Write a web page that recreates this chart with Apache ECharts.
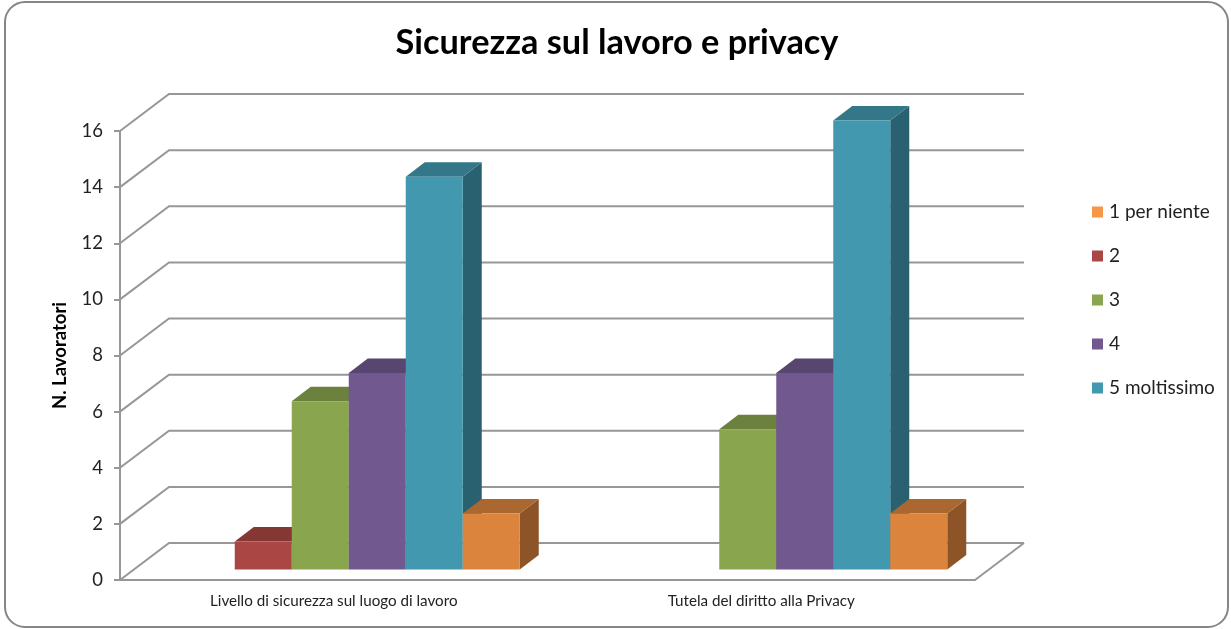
<!DOCTYPE html>
<html>
<head>
<meta charset="utf-8">
<style>html,body{margin:0;padding:0;background:#fff}#c{width:1231px;height:629px}</style>
<script src="https://cdn.jsdelivr.net/npm/echarts@6/dist/echarts.min.js"></script>
</head>
<body>
<div id="c"></div>
<script>
var categories = ['Livello di sicurezza sul luogo di lavoro', 'Tutela del diritto alla Privacy'];
var yTicks = [0, 2, 4, 6, 8, 10, 12, 14, 16];
var seriesNames = ['1 per niente', '2', '3', '4', '5 moltissimo', '6'];
var legendNames = ['1 per niente', '2', '3', '4', '5 moltissimo'];
var s1 = [0, 0];
var s2 = [1, 0];
var s3 = [6, 5];
var s4 = [7, 7];
var s5 = [14, 16];
var s6 = [2, 2];
var seriesValues = [s1, s2, s3, s4, s5, s6];
var colors = ['#F79646', '#AA4643', '#89A54E', '#71588F', '#4198AF', '#DB843D'];

var FONT = 'Lato, "Open Sans", sans-serif';
var LINE = '#979797';
var WALL_DX = 49, WALL_DY = 37;
var BAR_OFF_X = 15, BAR_OFF_Y = 10.5;
var BAR_DX = 19, BAR_DY = 14.5;
var GAP_RATIO = 1.5;
var TOP_SHADE = 0.78, SIDE_SHADE = 0.64;

function shade(hex, f) {
  var n = parseInt(hex.slice(1), 16);
  var r = Math.round((n >> 16 & 255) * f), g = Math.round((n >> 8 & 255) * f), b = Math.round((n & 255) * f);
  return 'rgb(' + r + ',' + g + ',' + b + ')';
}

function renderWall(params, api) {
  var v = api.value(1);
  var p = api.coord([0, v]);
  var catW = api.size([1, 0])[0];
  var left = p[0] - catW / 2;
  var right = left + catW * categories.length;
  var pts = [[left, p[1]], [left + WALL_DX, p[1] - WALL_DY], [right + WALL_DX, p[1] - WALL_DY]];
  var children = [{type: 'polyline', shape: {points: pts}, style: {stroke: LINE, lineWidth: 2, fill: null}}];
  if (v === 0) {
    children.push({type: 'line', shape: {x1: right, y1: p[1], x2: right + WALL_DX, y2: p[1] - WALL_DY},
      style: {stroke: LINE, lineWidth: 2}});
  }
  return {type: 'group', children: children};
}

function makeBarRenderer(idx) {
  return function (params, api) {
    var val = api.value(1);
    if (!val) return null;
    var cat = api.value(0);
    var c = api.coord([cat, 0]);
    var t = api.coord([cat, val]);
    var catW = api.size([1, 0])[0];
    var barW = catW / (seriesNames.length + GAP_RATIO);
    var x0 = c[0] - catW / 2 + barW * GAP_RATIO / 2 + idx * barW + BAR_OFF_X;
    var x1 = x0 + barW;
    var yB = c[1] - BAR_OFF_Y;
    var yT = t[1] - BAR_OFF_Y;
    var col = colors[idx];
    return {type: 'group', children: [
      {type: 'polygon', shape: {points: [[x1, yT], [x1 + BAR_DX, yT - BAR_DY], [x1 + BAR_DX, yB - BAR_DY], [x1, yB]]},
        style: {fill: shade(col, SIDE_SHADE)}},
      {type: 'polygon', shape: {points: [[x0, yT], [x0 + BAR_DX, yT - BAR_DY], [x1 + BAR_DX, yT - BAR_DY], [x1, yT]]},
        style: {fill: shade(col, TOP_SHADE)}},
      {type: 'polygon', shape: {points: [[x0, yT], [x1, yT], [x1, yB], [x0, yB]]},
        style: {fill: col}}
    ]};
  };
}

var series = [{
  type: 'custom', name: 'griglia', silent: true, clip: false, animation: false,
  data: yTicks.map(function (v) { return [0, v]; }),
  encode: {x: 0, y: 1}, renderItem: renderWall
}];
seriesNames.forEach(function (name, i) {
  series.push({
    type: 'custom', name: name, clip: false, animation: false,
    itemStyle: {color: colors[i]},
    data: seriesValues[i].map(function (v, k) { return [k, v]; }),
    encode: {x: 0, y: 1}, renderItem: makeBarRenderer(i)
  });
});

var chart = echarts.init(document.getElementById('c'), null, {renderer: 'canvas'});
chart.setOption({
  animation: false,
  backgroundColor: '#fff',
  title: {
    text: 'Sicurezza sul lavoro e privacy', left: 612, top: 21, textAlign: 'center',
    textStyle: {fontFamily: FONT, fontWeight: 'bold', fontSize: 34.3, color: '#000'}
  },
  legend: {
    data: legendNames, orient: 'vertical', left: 1092, top: 202, padding: 0, icon: 'rect',
    itemWidth: 11, itemHeight: 11, itemGap: 24,
    selectedMode: false,
    textStyle: {fontFamily: FONT, fontSize: 19, color: '#222', lineHeight: 20, padding: [0, 0, 0, 1]}
  },
  grid: {left: 120, right: 256, top: 131, bottom: 49, containLabel: false},
  xAxis: {
    type: 'category', data: categories,
    axisLine: {lineStyle: {color: LINE, width: 2}},
    axisTick: {show: false},
    axisLabel: {fontFamily: FONT, fontSize: 15.2, color: '#222', margin: 14, interval: 0}
  },
  yAxis: {
    type: 'value', min: 0, max: 16, interval: 2,
    name: 'N. Lavoratori', nameLocation: 'middle', nameGap: 50, nameRotate: 90,
    nameTextStyle: {fontFamily: FONT, fontWeight: 'bold', fontSize: 18.5, color: '#000'},
    axisLine: {show: true, lineStyle: {color: LINE, width: 2}},
    axisTick: {show: true, length: 6, lineStyle: {color: LINE, width: 2}},
    axisLabel: {fontFamily: FONT, fontSize: 18.5, color: '#222', margin: 17},
    splitLine: {show: false}
  },
  graphic: [{
    type: 'rect', silent: true, z: -1,
    shape: {x: 5, y: 2, width: 1223, height: 625, r: 20},
    style: {fill: null, stroke: '#868686', lineWidth: 2}
  }],
  series: series
});
</script>
</body>
</html>
